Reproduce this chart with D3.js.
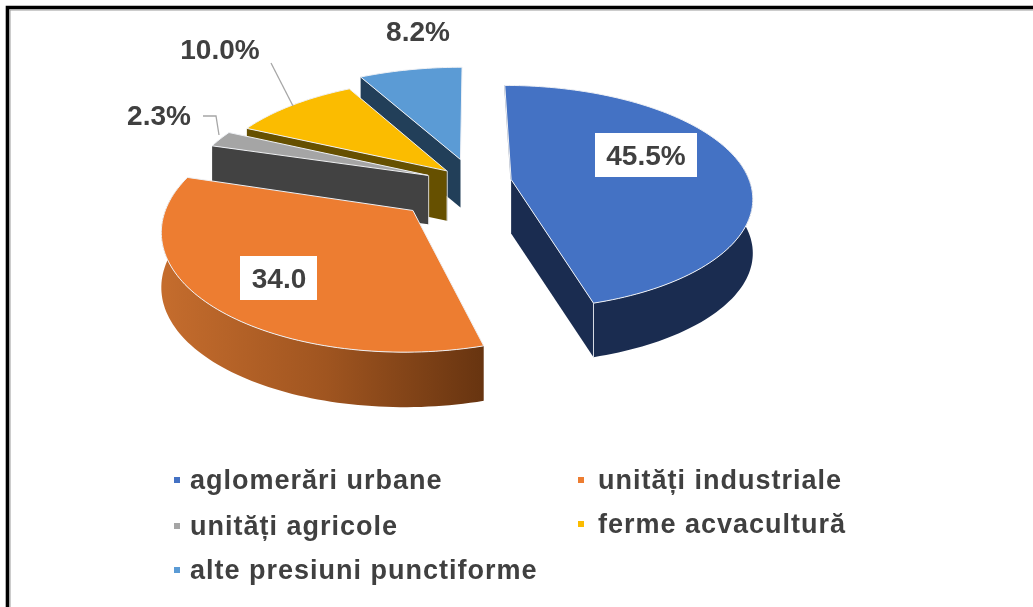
<!DOCTYPE html>
<html><head><meta charset="utf-8">
<script src="https://cdn.jsdelivr.net/npm/d3@7/dist/d3.min.js"></script>
<style>html,body{margin:0;padding:0;background:#fff;overflow:hidden}svg{display:block;filter:blur(.55px)}</style>
</head><body><div id="c"></div>
<script>
const categories=["aglomerări urbane","unități industriale","unități agricole","ferme acvacultură","alte presiuni punctiforme"];
const values=[45.5,34.0,2.3,10.0,8.2];
const valueLabels=["45.5%","34.0","2.3%","10.0%","8.2%"];
const topColors=["#4472c4","#ed7d31","#a5a5a5","#fbbc00","#5b9bd5"];
const wallColors=["#1a2c50","url(#rim)","#424242","#665000","#223f59"];
// layout
const W=1033,H=607,cx=470,cy=195,R=240,p=.15;
const yScale=[.48,.49,.48,.48,.49];
const radiusScale=[1.012,1.012,1.015,1.02,1.05];
const depths=[54,55,49,50,48];
const explode=[[42,-33],[-56,31],[-43,-42],[-24,-52],[-10,-76]]; // world offset of each slice's apex
const visibleWalls=[["end","rim"],["rim"],["start"],["start"],["start"]];
const labelPos=[[646,155],[279,278],[159,115],[220,49],[418,31]];
const boxes=[[595,133,102,44],[240,256,77,44]];
const legendPos=[[174,480,190],[578,480,598],[174,526,190],[578,524,598],[174,570,190]];

const svg=d3.select("#c").append("svg").attr("width",W).attr("height",H);
const grad=svg.append("defs").append("linearGradient").attr("id","rim").attr("gradientUnits","userSpaceOnUse").attr("x1",165).attr("x2",485).attr("y1",0).attr("y2",0);
grad.append("stop").attr("offset",0).attr("stop-color","#c46c2d");
grad.append("stop").attr("offset",.5).attr("stop-color","#a05520");
grad.append("stop").attr("offset",1).attr("stop-color","#673410");

svg.append("path").attr("d",`M7.5 ${H}V7.5H${W}`).attr("fill","none").attr("stroke","#000").attr("stroke-width",3.6);
svg.append("path").attr("d",`M10 ${H}V10H${W}`).attr("fill","none").attr("stroke","#999").attr("stroke-width",1);

const arcs=d3.pie().sort(null).value(d=>d)(values);
const proj=(i,a,r,dz=0)=>{
  const rr=r*radiusScale[i];
  const wx=explode[i][0]+rr*Math.sin(a), wy=explode[i][1]-rr*Math.cos(a);
  const s=1+p*wy/R;
  return [cx+wx*s, cy+wy*yScale[i]*s+dz];
};
const line=d3.line();
const order=[4,3,2,0,1];
order.forEach(i=>{
  const d=arcs[i], g=svg.append("g"), depth=depths[i];
  const n=Math.max(6,Math.ceil((d.endAngle-d.startAngle)*40));
  const angs=d3.range(n+1).map(j=>d.startAngle+(d.endAngle-d.startAngle)*j/n);
  const rim=angs.map(a=>proj(i,a,R));
  const frontAngs=angs.filter(a=>Math.cos(a)<.2);
  const ap=proj(i,0,0), apB=proj(i,0,0,depth);
  visibleWalls[i].forEach(w=>{
    if(w==="rim"){
      const f=frontAngs.map(a=>proj(i,a,R)), b=frontAngs.map(a=>proj(i,a,R,depth));
      g.append("path").attr("d",line(f.concat(b.reverse()))+"Z").attr("fill",wallColors[i]);
    }else{
      const a=w==="start"?d.startAngle:d.endAngle;
      g.append("path").attr("d",line([ap,proj(i,a,R),proj(i,a,R,depth),apB])+"Z").attr("fill",wallColors[i]);
    }
  });
  // light seams at the wall corners
  if(i===0){const q=proj(i,d.endAngle,R);g.append("line").attr("x1",q[0]).attr("y1",q[1]).attr("x2",q[0]).attr("y2",q[1]+depth).attr("stroke","#d8dde6").attr("stroke-width",1);
    const t=proj(i,d.startAngle,R);g.append("path").attr("d",line([t,ap])).attr("fill","none").attr("stroke","#9aa3b5").attr("stroke-width",1.5);}
  if(i===2||i===3){g.append("line").attr("x1",ap[0]+.5).attr("y1",ap[1]).attr("x2",ap[0]+.5).attr("y2",ap[1]+depth).attr("stroke","#d0d0d0").attr("stroke-width",1);}
  // top
  g.append("path").attr("d",line([ap].concat(rim))+"Z").attr("fill",topColors[i]).attr("stroke","#eef0f4").attr("stroke-width",1).attr("stroke-linejoin","round");
});

// leader lines
const leaderColor="#a6a6a6";
svg.append("path").attr("d",line([[271,63],[293,106]])).attr("fill","none").attr("stroke",leaderColor).attr("stroke-width",1.3);
svg.append("path").attr("d",line([[203,116],[216,116],[219,135]])).attr("fill","none").attr("stroke",leaderColor).attr("stroke-width",1.3);

boxes.forEach(b=>svg.append("rect").attr("x",b[0]).attr("y",b[1]).attr("width",b[2]).attr("height",b[3]).attr("fill","#fff"));
const font="'Liberation Sans',Arial,sans-serif";
valueLabels.forEach((t,i)=>{
  svg.append("text").attr("x",labelPos[i][0]).attr("y",labelPos[i][1]).attr("text-anchor","middle").attr("dominant-baseline","central")
    .attr("font-family",font).attr("font-weight","bold").attr("font-size",28).attr("fill","#404040").text(t);
});
categories.forEach((t,i)=>{
  const [x,y,tx]=legendPos[i];
  svg.append("rect").attr("x",x).attr("y",y-3).attr("width",6).attr("height",6).attr("fill",topColors[i]);
  svg.append("text").attr("x",tx).attr("y",y).attr("dominant-baseline","central").attr("font-family",font).attr("font-weight","bold")
    .attr("font-size",27).attr("letter-spacing",1).attr("fill","#404040").text(t);
});
</script></body></html>
